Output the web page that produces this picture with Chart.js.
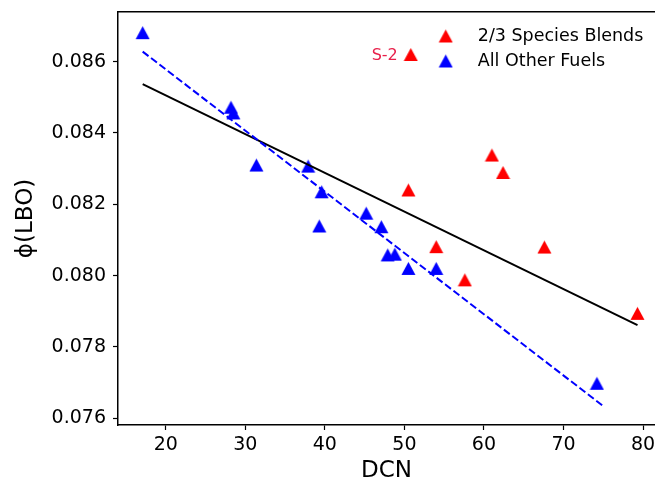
<!DOCTYPE html>
<html><head><meta charset="utf-8">
<script src="https://cdn.jsdelivr.net/npm/chart.js@4"></script>
<style>html,body{margin:0;padding:0;background:#fff}canvas{display:block}</style>
</head><body>
<canvas id="c" width="655" height="484"></canvas>
<script>
const blendDCN = [50.8, 50.5, 54.0, 57.6, 61.0, 62.4, 67.6, 79.3];
const blendPhi = [0.08620, 0.08240, 0.08081, 0.07988, 0.08338, 0.08289, 0.08080, 0.07894];
const otherDCN = [17.1, 28.2, 28.5, 31.4, 37.9, 39.6, 39.3, 45.2, 47.1, 47.9, 48.8, 50.5, 54.0, 74.2];
const otherPhi = [0.08681, 0.08472, 0.08456, 0.08310, 0.08307, 0.08235, 0.08139, 0.08175, 0.08137, 0.08058, 0.08060, 0.08020, 0.08020, 0.07698];
const fitAllDCN = [17.1, 79.3];
const fitAllPhi = [0.08537, 0.07861];
const fitOtherDCN = [17.1, 75.0];
const fitOtherPhi = [0.08628, 0.07634];
const xTicks = [20, 30, 40, 50, 60, 70, 80];
const yTicks = [0.076, 0.078, 0.080, 0.082, 0.084, 0.086];
const seriesNames = ['2/3 Species Blends', 'All Other Fuels'];
const s2Label = 'S-2';
const xLabel = 'DCN';
const yLabel = 'ϕ(LBO)';

const FONT = '"DejaVu Sans", sans-serif';

function tri(color) {
  const c = document.createElement('canvas');
  c.width = 15; c.height = 15;
  const g = c.getContext('2d');
  g.fillStyle = color;
  g.beginPath();
  g.moveTo(7.5, 1); g.lineTo(14.5, 14); g.lineTo(0.5, 14); g.closePath();
  g.fill();
  return c;
}
const zip = (xs, ys) => xs.map((v, i) => ({x: v, y: ys[i]}));

function fixScale(s, w, h) {
  if (w !== null) s.width = w;
  if (h !== null) s.height = h;
  s.paddingTop = 0; s.paddingBottom = 0; s.paddingLeft = 0; s.paddingRight = 0;
}

const legendPlace = {
  id: 'legendPlace',
  afterLayout(chart) {
    const lg = chart.legend; if (!lg) return;
    lg.left = chart.chartArea.right - 240;
    lg.top = chart.chartArea.top + 7.75;
    lg.right = chart.width;
    lg.bottom = chart.height;
    lg.width = lg.right - lg.left;
    lg.height = lg.bottom - lg.top;
  }
};

const s2Plugin = {
  id: 's2',
  afterDatasetsDraw(chart) {
    const {ctx, scales: {x, y}} = chart;
    const px = x.getPixelForValue(blendDCN[0]);
    const py = y.getPixelForValue(blendPhi[0]);
    ctx.save();
    ctx.font = '16px ' + FONT;
    ctx.fillStyle = '#e8204a';
    ctx.textAlign = 'right';
    ctx.textBaseline = 'middle';
    ctx.fillText(s2Label, px - 13, py + 1.5);
    ctx.restore();
  }
};

new Chart(document.getElementById('c'), {
  type: 'scatter',
  data: {
    datasets: [
      {label: seriesNames[0], data: zip(blendDCN, blendPhi), pointStyle: tri('#ff0000'), pointRadius: 7, backgroundColor: '#ff0000', borderColor: '#ff0000', order: 2},
      {label: seriesNames[1], data: zip(otherDCN, otherPhi), pointStyle: tri('#0000ff'), pointRadius: 7, backgroundColor: '#0000ff', borderColor: '#0000ff', order: 2},
      {label: 'fit all', data: zip(fitAllDCN, fitAllPhi), showLine: true, pointRadius: 0, borderColor: '#000000', borderWidth: 2, order: 1},
      {label: 'fit other', data: zip(fitOtherDCN, fitOtherPhi), showLine: true, pointRadius: 0, borderColor: '#0000ff', borderWidth: 2, borderDash: [7.4, 3.2], order: 0}
    ]
  },
  options: {
    responsive: false,
    animation: false,
    layout: {autoPadding: false, padding: {top: 12, left: 0, right: 0, bottom: 0}},
    plugins: {
      tooltip: {enabled: false},
      legend: {
        position: 'chartArea',
        align: 'start',
        labels: {
          filter: (item) => item.datasetIndex < 2,
          usePointStyle: true,
          pointStyleWidth: 46.5,
          padding: 7.5,
          color: '#000',
          font: {family: FONT, size: 17.5}
        }
      }
    },
    scales: {
      x: {
        type: 'linear', position: 'bottom', min: 14, max: 81.5,
        afterBuildTicks: (s) => { s.ticks = xTicks.map(v => ({value: v})); },
        afterFit: (s) => fixScale(s, null, 59),
        ticks: {color: '#000', font: {family: FONT, size: 19}, padding: 4, callback: (v) => String(v)},
        grid: {display: true, drawOnChartArea: false, drawTicks: true, tickLength: 5, tickColor: '#000', tickWidth: 1.2},
        border: {display: true, color: '#000', width: 1.5},
        title: {display: true, text: xLabel, color: '#000', font: {family: FONT, size: 23, lineHeight: 1}, padding: {top: 0, bottom: 1}}
      },
      x2: {
        type: 'linear', position: 'top', min: 14, max: 81.5,
        afterBuildTicks: (s) => { s.ticks = xTicks.map(v => ({value: v})); },
        afterFit: (s) => fixScale(s, null, 0),
        ticks: {display: false},
        grid: {display: true, drawOnChartArea: false, drawTicks: false},
        border: {display: true, color: '#000', width: 1.5}
      },
      y: {
        type: 'linear', position: 'left', min: 0.07581, max: 0.08739,
        afterBuildTicks: (s) => { s.ticks = yTicks.map(v => ({value: v})); },
        afterFit: (s) => fixScale(s, 118, null),
        ticks: {color: '#000', font: {family: FONT, size: 19}, padding: 7, callback: (v) => v.toFixed(3)},
        grid: {display: true, drawOnChartArea: false, drawTicks: true, tickLength: 5, tickColor: '#000', tickWidth: 1.2},
        border: {display: true, color: '#000', width: 1.5},
        title: {display: true, text: yLabel, color: '#000', font: {family: FONT, size: 23, lineHeight: 1}, padding: {top: 14.5, bottom: 0}}
      }
    }
  },
  plugins: [legendPlace, s2Plugin]
});
</script>
</body></html>
